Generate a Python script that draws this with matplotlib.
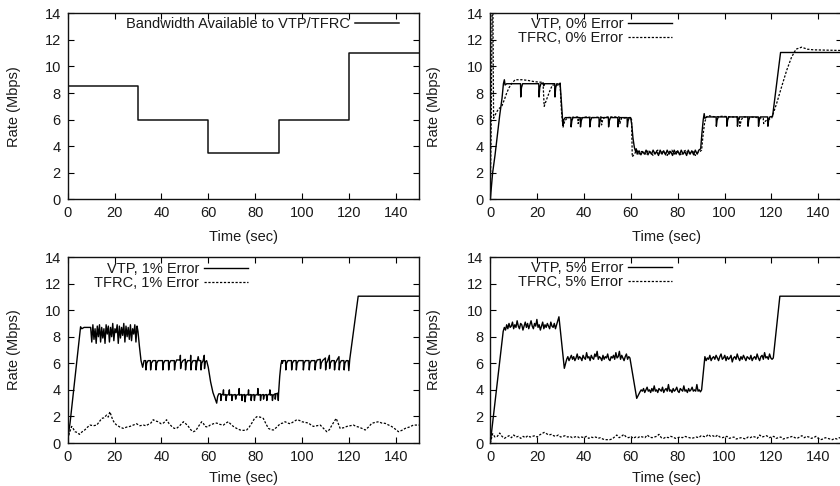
import numpy as np
import matplotlib
matplotlib.use("Agg")
import matplotlib.pyplot as plt

plt.rcParams['font.family'] = ['Liberation Sans', 'DejaVu Sans']
plt.rcParams['font.size'] = 10.5

# ---------------- data ----------------
bw_t = [0, 30, 60, 90, 120, 150]
bw_v = [8.5, 6.0, 3.5, 6.0, 11.0, 11.0]

vtp0 = [(0, 0), (1, 2.0), (2, 3.3), (3, 4.8), (4, 6.3), (5, 7.6), (5.6, 8.7), (6.0, 9.0), (6.3, 8.6), (7, 8.7),
        (12.9, 8.7), (13.0, 7.7), (13.3, 8.4), (13.8, 8.7), (20.7, 8.7), (20.8, 7.7), (21.1, 8.4), (21.6, 8.7),
        (22.6, 8.75), (22.8, 8.55), (23.2, 8.7), (27.5, 8.7), (27.6, 7.7), (27.9, 8.4), (28.4, 8.7), (29.6, 8.65),
        (29.8, 8.75), (30.3, 7.4), (30.7, 6.2), (31.0, 5.6), (31.4, 6.0), (32.0, 6.15),
        (34.4, 6.15), (34.5, 5.45), (34.8, 5.9), (35.3, 6.15),
        (38.4, 6.15), (38.5, 5.45), (38.8, 5.9), (39.3, 6.15),
        (42.4, 6.15), (42.5, 5.45), (42.8, 5.9), (43.3, 6.15),
        (46.4, 6.15), (46.5, 5.45), (46.8, 5.9), (47.3, 6.15),
        (50.4, 6.15), (50.5, 5.45), (50.8, 5.9), (51.3, 6.15),
        (54.4, 6.15), (54.5, 5.45), (54.8, 5.9), (55.3, 6.15),
        (58.4, 6.15), (58.5, 5.45), (58.8, 5.9), (59.3, 6.15),
        (59.9, 6.15), (60.4, 5.6), (60.9, 4.6), (61.5, 3.9), (62.0, 3.6), (62.3, 3.8), (62.7, 3.4), (63.5, 3.65),
        (64.3, 3.35), (65.0, 3.6), (65.8, 3.4), (66.5, 3.7), (67.3, 3.35), (68.0, 3.6), (68.8, 3.4), (69.5, 3.7),
        (70.3, 3.4), (71.0, 3.6), (71.8, 3.3), (72.5, 3.7), (73.3, 3.4), (74.0, 3.65), (74.8, 3.35), (75.5, 3.7),
        (76.3, 3.4), (77.0, 3.6), (77.8, 3.3), (78.5, 3.7), (79.3, 3.4), (80.0, 3.65), (80.8, 3.35), (81.5, 3.7),
        (82.3, 3.4), (83.0, 3.6), (83.8, 3.3), (84.5, 3.7), (85.3, 3.4), (86.0, 3.65), (86.8, 3.35), (87.5, 3.7),
        (88.3, 3.4), (89.0, 3.7), (89.8, 3.8), (90.3, 4.9), (90.9, 6.0), (91.3, 6.45), (91.6, 6.1), (92.5, 6.2),
        (96.4, 6.2), (96.5, 5.5), (96.8, 5.95), (97.3, 6.2),
        (100.9, 6.2), (101.0, 5.5), (101.3, 5.95), (101.8, 6.2),
        (105.4, 6.2), (105.5, 5.5), (105.8, 5.95), (106.3, 6.2),
        (109.9, 6.2), (110.0, 5.5), (110.3, 5.95), (110.8, 6.2),
        (114.4, 6.2), (114.5, 5.5), (114.8, 5.95), (115.3, 6.2),
        (118.4, 6.2), (118.5, 5.5), (118.8, 5.95), (119.3, 6.2),
        (120.5, 6.25), (123.9, 11.05), (150, 11.05)]

tfrc0 = [(0, 0), (0.4, 6.0), (0.8, 15.0), (1.1, 15.0), (1.4, 6.1), (2.5, 6.5), (3.5, 6.8), (4.9, 7.0), (6, 7.5),
         (7, 8.0), (8, 8.4), (9.1, 8.7), (10.6, 9.0), (13.6, 9.0), (16, 8.95), (19, 8.85), (22.5, 8.8),
         (23.0, 7.0), (24.2, 7.6), (25.5, 8.2), (26.5, 8.6), (29.8, 8.6), (30.4, 6.6), (31.0, 5.4), (31.8, 5.9),
         (33, 6.15), (37.3, 6.2), (37.5, 5.7), (38, 6.1), (41, 6.2), (44, 6.15), (47.3, 6.2), (47.5, 5.6),
         (48, 6.0), (49, 6.2), (55, 6.2), (55.3, 5.7), (56, 6.1), (59.8, 6.15), (60.3, 6.0), (60.6, 3.2),
         (61.5, 3.4), (62.5, 3.7), (63.5, 3.4), (64.5, 3.6), (65.5, 3.5), (66.5, 3.4), (67.5, 3.7), (68.5, 3.5),
         (69.5, 3.3), (70.5, 3.6), (71.5, 3.7), (72.5, 3.4), (73.5, 3.6), (74.5, 3.5), (75.5, 3.3), (76.5, 3.6),
         (77.5, 3.7), (78.5, 3.4), (79.5, 3.6), (80.5, 3.5), (81.5, 3.3), (82.5, 3.6), (83.5, 3.7), (84.5, 3.4),
         (85.5, 3.5), (86.5, 3.6), (87.5, 3.3), (88.5, 3.5), (89.5, 3.6), (90.2, 3.7), (90.8, 4.8), (91.5, 5.8),
         (92.3, 6.2), (93, 6.3), (96, 6.2), (99, 6.25), (103, 6.2), (106.3, 6.2), (106.5, 5.5), (107.2, 6.0),
         (108, 6.2), (111, 6.2), (114, 6.15), (116.5, 6.1), (116.7, 5.7), (117.5, 5.9), (118.5, 6.0),
         (120.1, 6.1), (122.2, 7.2), (124.4, 8.5), (126.5, 9.7), (128.6, 10.7), (130.5, 11.3), (132.9, 11.45),
         (135.3, 11.3), (138, 11.25), (150, 11.2)]

vtp1_head = [(0, 0), (0.5, 0.9), (1.0, 1.5), (5.5, 8.75), (6.0, 8.6), (7.0, 8.7), (9.5, 8.7)]
vtp1_osc = [8.7, 7.6, 8.9, 7.8, 8.6, 7.5, 8.8, 8.0, 8.9, 7.6, 8.7, 7.9, 8.6, 7.5, 8.9, 8.2, 8.8, 7.6, 8.7, 8.0,
            9.0, 7.7, 8.6, 8.3, 8.9, 7.5, 8.8, 7.9, 8.7, 8.1, 9.0, 7.6, 8.8, 8.0, 8.7, 7.8, 8.9, 7.7, 8.6, 8.2,
            8.9, 7.6, 8.8]
vtp1_osc_span = (9.8, 29.6)
vtp1_tail = [(30.0, 8.4), (30.6, 7.3), (31.3, 6.2), (32.0, 5.7),
             (32.6, 6.2), (33.3, 6.2), (33.4, 5.5), (33.7, 6.0), (34.3, 6.2), (35.3, 6.2), (35.4, 5.5), (35.7, 6.0),
             (36.4, 6.2), (37.6, 6.2), (37.7, 5.5), (38.0, 6.0), (38.6, 6.2), (40.5, 6.2), (40.6, 5.5), (40.9, 6.0),
             (41.5, 6.2), (43.0, 6.2), (43.1, 5.5), (43.4, 6.0), (44.0, 6.2), (45.5, 6.2), (45.6, 5.5), (45.9, 6.0),
             (46.5, 6.25), (48.0, 6.25), (48.1, 6.6), (48.2, 5.6), (48.5, 6.0), (49.2, 6.2), (50.2, 6.3), (50.3, 5.5),
             (50.6, 6.0), (51.2, 6.2), (52.4, 6.2), (52.5, 6.6), (52.6, 5.5), (52.9, 6.0), (53.5, 6.2), (54.7, 6.2),
             (54.8, 5.5), (55.1, 6.0), (55.7, 6.5), (56.0, 6.2), (56.8, 6.2), (56.9, 5.5), (57.2, 6.0), (57.8, 6.2),
             (58.3, 6.6), (58.4, 5.6), (58.7, 6.1), (59.3, 6.2),
             (60.0, 5.7), (61.0, 4.6), (62.0, 3.8), (62.8, 3.4), (63.6, 3.0), (64.0, 3.5), (64.5, 3.7),
             (65.3, 3.7), (65.4, 3.2), (65.7, 3.6), (66.3, 3.7), (66.5, 4.0), (66.6, 3.6), (67.5, 3.65), (67.6, 3.2),
             (67.9, 3.6), (68.8, 3.65), (69.0, 4.0), (69.1, 3.6), (70.0, 3.65), (70.1, 3.2), (70.4, 3.6), (71.5, 3.65),
             (71.7, 3.3), (72.0, 3.6), (73.0, 3.65), (73.2, 4.1), (73.3, 3.6), (74.3, 3.65), (74.4, 3.2), (74.7, 3.6),
             (75.5, 3.65), (75.7, 3.1), (76.0, 3.6), (77.0, 3.65), (77.2, 4.0), (77.3, 3.6), (78.2, 3.65), (78.3, 3.2),
             (78.6, 3.6), (79.5, 3.65), (79.7, 3.2), (80.0, 3.6), (81.0, 3.65), (81.2, 4.1), (81.3, 3.6), (82.2, 3.65),
             (82.3, 3.2), (82.6, 3.6), (83.5, 3.65), (83.6, 3.3), (83.9, 3.6), (84.8, 3.65), (85.0, 3.2), (85.3, 3.6),
             (86.2, 3.7), (86.3, 4.0), (86.4, 3.6), (87.2, 3.65), (87.4, 3.2), (87.7, 3.6), (88.5, 3.7), (88.6, 3.3),
             (88.9, 3.7), (89.7, 3.75), (89.9, 3.2), (90.0, 3.7), (90.5, 5.0), (91.0, 5.9), (91.4, 6.2), (91.6, 6.0),
             (92.0, 6.2), (93.0, 6.2), (93.1, 5.5), (93.4, 6.0), (94.0, 6.2), (95.5, 6.2), (95.6, 5.5), (95.9, 6.0),
             (96.5, 6.2), (97.5, 6.2), (97.6, 5.5), (97.9, 6.0), (98.5, 6.2), (100.5, 6.2), (100.6, 5.5), (100.9, 6.0),
             (101.5, 6.2), (103.0, 6.2), (103.1, 5.5), (103.4, 6.0), (104.0, 6.2), (105.5, 6.2), (105.6, 5.5),
             (105.9, 6.0), (106.5, 6.25), (107.8, 6.3), (107.9, 5.6), (108.2, 6.0), (108.8, 6.2), (110.0, 6.4),
             (110.1, 5.5), (110.4, 6.0), (111.0, 6.2), (111.7, 6.6), (111.8, 5.6), (112.1, 6.0), (112.7, 6.2),
             (113.8, 6.2), (113.9, 5.5), (114.2, 6.0), (114.8, 6.2), (115.8, 6.5), (115.9, 5.5), (116.2, 6.0),
             (116.8, 6.2), (117.9, 6.2), (118.0, 5.5), (118.3, 6.0), (118.9, 6.2), (119.7, 6.2), (120.0, 5.45),
             (120.4, 6.3), (124.0, 11.05), (150, 11.05)]

tfrc1 = [(0, 0.3), (0.8, 0.8), (1.7, 1.25), (2.3, 1.1), (3.1, 0.85), (4.0, 0.8), (5.0, 0.65), (6.2, 0.85),
         (7.4, 1.0), (8.5, 1.2), (9.5, 1.35), (11.0, 1.3), (12.4, 1.35), (13.5, 1.6), (14.5, 1.85), (15.5, 1.9),
         (16.6, 2.1), (17.3, 1.95), (18.0, 2.35), (19.2, 1.75), (20.0, 1.5), (20.9, 1.35), (22.3, 1.2), (23.7, 1.1),
         (25.2, 1.2), (26.6, 1.25), (28, 1.35), (29.4, 1.45), (30.8, 1.3), (32.3, 1.35), (33.4, 1.3), (34.4, 1.4),
         (35.5, 1.5), (36.5, 1.75), (37.6, 1.65), (38.7, 1.6), (39.8, 1.45), (40.8, 1.5), (41.5, 1.6), (42.2, 1.75),
         (43.3, 1.45), (44.4, 1.25), (45.5, 1.1), (46.5, 1.1), (47.8, 1.3), (49.4, 1.6), (50.4, 1.45), (51.5, 1.25),
         (52.5, 1.0), (53.6, 0.85), (54.3, 0.9), (55.1, 1.05), (56.2, 1.35), (57.2, 1.6), (58.0, 1.45),
         (58.6, 1.25), (59.7, 1.2), (60.8, 1.35), (62.2, 1.45), (63.6, 1.5), (65.0, 1.4), (66.5, 1.35), (67.5, 1.5),
         (68.6, 1.6), (69.7, 1.4), (70.7, 1.25), (72.1, 1.1), (73.6, 0.98), (75.0, 0.95), (76.4, 0.98), (77.5, 1.2),
         (78.6, 1.5), (79.6, 1.8), (80.7, 1.98), (82.1, 1.95), (83.5, 1.85), (84.6, 1.45), (85.7, 1.1), (86.8, 1.0),
         (87.8, 0.98), (89.3, 1.2), (90.7, 1.45), (91.8, 1.5), (92.8, 1.6), (93.9, 1.5), (95.0, 1.45), (96.4, 1.6),
         (97.8, 1.75), (98.9, 1.7), (100.0, 1.6), (101.4, 1.55), (102.8, 1.5), (103.9, 1.35), (104.9, 1.25),
         (106.4, 1.3), (107.8, 1.35), (109.2, 1.1), (110.6, 0.85), (111.7, 1.0), (112.8, 1.35), (113.7, 1.6),
         (114.6, 1.85), (115.4, 1.5), (116.3, 1.1), (117.8, 1.15), (119.2, 1.25), (120.6, 1.3), (122.0, 1.35),
         (123.1, 1.25), (124.2, 1.2), (125.6, 1.1), (127.0, 0.98), (128.4, 1.2), (129.8, 1.48), (131.2, 1.55),
         (132.7, 1.6), (134.1, 1.5), (135.5, 1.48), (137.0, 1.35), (138.4, 1.23), (139.8, 1.05), (141.2, 0.85),
         (142.6, 0.95), (144.1, 1.1), (145.8, 1.2), (147.6, 1.35), (150, 1.35)]

# VTP 5%: ramps + noisy plateaus (plateau samples evenly spaced over their span)
vtp5_ramp_up = [(0, 0), (5.5, 8.4)]
vtp5_seg_a = [8.7, 8.5, 8.9, 8.6, 9.0, 8.7, 8.8, 9.1, 8.6, 8.9, 8.7, 9.2, 8.8, 8.6, 9.0, 8.9, 8.5, 8.8, 9.1, 8.7,
              9.0, 8.6, 8.9, 9.2, 8.8, 8.6, 9.0, 8.8, 9.3, 8.7, 8.9, 8.5, 8.8, 9.1, 8.6, 8.9, 8.7, 9.0, 8.8, 8.6,
              9.1, 8.8, 8.7, 9.0, 8.6, 8.9, 9.2, 9.5]
vtp5_span_a = (6.0, 29.3)
vtp5_drop_a = [(31.6, 5.62)]
vtp5_seg_b = [6.3, 6.5, 6.2, 6.4, 6.6, 6.3, 6.5, 6.2, 6.4, 6.7, 6.3, 6.5, 6.4, 6.2, 6.6, 6.4, 6.3, 6.8, 6.4, 6.5,
              6.2, 6.6, 6.4, 6.3, 6.7, 6.5, 6.9, 6.3, 6.5, 6.4, 6.2, 6.6, 6.3, 6.5, 6.4, 6.7, 6.3, 6.2, 6.5, 6.4,
              6.6, 6.3, 6.8, 6.4, 6.5, 6.9, 6.3, 6.6, 6.4, 6.2, 6.5, 6.7, 6.3, 6.5, 6.4]
vtp5_span_b = (32.6, 59.6)
vtp5_drop_b = [(62.5, 3.36)]
vtp5_seg_c = [3.85, 4.0, 3.9, 4.1, 3.8, 4.0, 4.2, 3.9, 4.0, 3.8, 4.1, 3.9, 4.3, 3.9, 4.0, 3.8, 4.1, 4.0, 3.9, 4.2,
              3.8, 4.0, 4.1, 3.9, 4.4, 3.9, 4.0, 3.8, 4.1, 3.9, 4.0, 4.2, 3.9, 3.8, 4.1, 4.0, 3.9, 4.3, 3.9, 4.0,
              3.8, 4.1, 3.9, 4.0, 4.2, 3.9, 4.0, 3.9, 4.4, 3.9, 4.0, 3.85, 4.0]
vtp5_span_c = (63.9, 90.2)
vtp5_seg_d = [6.5, 6.2, 6.4, 6.3, 6.6, 6.2, 6.4, 6.5, 6.3, 6.6, 6.4, 6.2, 6.5, 6.7, 6.3, 6.4, 6.6, 6.2, 6.5, 6.3,
              6.4, 6.6, 6.1, 6.4, 6.5, 6.3, 6.7, 6.4, 6.2, 6.5, 6.3, 6.6, 6.4, 6.2, 6.5, 6.4, 6.3, 6.6, 6.2, 6.4,
              6.5, 6.3, 6.7, 6.4, 6.2, 6.5, 6.6, 6.3, 6.8, 6.4, 6.5, 6.3, 6.7, 6.4, 6.3, 6.4]
vtp5_span_d = (91.6, 120.8)
vtp5_end = [(123.6, 11.05), (150, 11.05)]

tfrc5 = [0.0, 0.7, 0.45, 0.5, 0.75, 0.5, 0.35, 0.45, 0.55, 0.4, 0.6, 0.45, 0.5, 0.35, 0.5, 0.4, 0.55, 0.45, 0.5,
         0.55, 0.45, 0.6, 0.7, 0.8, 0.7, 0.6, 0.65, 0.55, 0.5, 0.6, 0.45, 0.5, 0.55, 0.45, 0.5, 0.4, 0.45, 0.5,
         0.4, 0.45, 0.4, 0.5, 0.35, 0.45, 0.4, 0.45, 0.35, 0.4, 0.3, 0.25, 0.25, 0.25, 0.3, 0.45, 0.6, 0.4, 0.5,
         0.65, 0.45, 0.4, 0.5, 0.35, 0.45, 0.4, 0.5, 0.45, 0.4, 0.6, 0.45, 0.4, 0.45, 0.5, 0.65, 0.4, 0.35, 0.45,
         0.4, 0.5, 0.45, 0.35, 0.4, 0.45, 0.4, 0.5, 0.45, 0.4, 0.35, 0.4, 0.45, 0.4, 0.55, 0.5, 0.45, 0.65, 0.5,
         0.55, 0.45, 0.6, 0.45, 0.4, 0.45, 0.5, 0.35, 0.4, 0.45, 0.3, 0.35, 0.4, 0.35, 0.3, 0.45, 0.4, 0.5, 0.45,
         0.35, 0.6, 0.45, 0.5, 0.55, 0.4, 0.45, 0.5, 0.35, 0.4, 0.45, 0.3, 0.35, 0.4, 0.45, 0.5, 0.4, 0.35, 0.45,
         0.55, 0.4, 0.5, 0.45, 0.35, 0.4, 0.5, 0.35, 0.25, 0.3, 0.4, 0.35, 0.3, 0.25, 0.35, 0.3, 0.4, 0.35]
tfrc5_span = (0, 150)

x_ticks = [0, 20, 40, 60, 80, 100, 120, 140]
y_ticks = [0, 2, 4, 6, 8, 10, 12, 14]
x_label = "Time (sec)"
y_label = "Rate (Mbps)"


def pairs(p):
    a = np.array(p, dtype=float)
    return a[:, 0], a[:, 1]


def seg(vals, span):
    return np.linspace(span[0], span[1], len(vals)), np.array(vals, dtype=float)


def join(*parts):
    ts, vs = zip(*parts)
    return np.concatenate(ts), np.concatenate(vs)


# ---------------- figure ----------------
fig = plt.figure(figsize=(8.4, 4.86), dpi=100)
W, H = 840.0, 486.0
axw = 351.4 / W
axh = 186.0 / H
lefts = [67.7 / W, 490.3 / W]
bottoms = [1 - 199.3 / H, 1 - 443.0 / H]

TXT = '#1a1a1a'
FS = 10.5
solid_kw = dict(color='black', lw=1.0)
dash_kw = dict(color='black', lw=0.9, dashes=(1.8, 1.3))


def style(ax):
    ax.set_xlim(0, 150)
    ax.set_ylim(0, 14)
    ax.set_xticks(x_ticks)
    ax.set_yticks(y_ticks)
    ax.tick_params(direction='in', top=True, right=True, length=4, width=0.8,
                   labelsize=FS, colors='black', labelcolor=TXT, pad=5)
    for s in ax.spines.values():
        s.set_linewidth(1.0)
        s.set_color('#111111')
    ax.set_xlabel(x_label, fontsize=FS, color=TXT, va='center')
    ax.set_ylabel(y_label, fontsize=FS, color=TXT, va='center')


axes = []
for r in range(2):
    for c in range(2):
        ax = fig.add_axes([lefts[c], bottoms[r], axw, axh])
        style(ax)
        axes.append(ax)

ax1, ax2, ax3, ax4 = axes

# panel 1
ax1.plot(bw_t, bw_v, drawstyle='steps-post', color='#111111', lw=1.1,
         label='Bandwidth Available to VTP/TFRC')

# panel 2
t, v = pairs(vtp0)
ax2.plot(t, v, label='VTP, 0% Error', **solid_kw)
t, v = pairs(tfrc0)
ax2.plot(t, v, label='TFRC, 0% Error', **dash_kw)

# panel 3
t, v = join(pairs(vtp1_head), seg(vtp1_osc, vtp1_osc_span), pairs(vtp1_tail))
ax3.plot(t, v, label='VTP, 1% Error', **solid_kw)
t, v = pairs(tfrc1)
ax3.plot(t, v, label='TFRC, 1% Error', **dash_kw)

# panel 4
t, v = join(pairs(vtp5_ramp_up), seg(vtp5_seg_a, vtp5_span_a), pairs(vtp5_drop_a),
            seg(vtp5_seg_b, vtp5_span_b), pairs(vtp5_drop_b), seg(vtp5_seg_c, vtp5_span_c),
            seg(vtp5_seg_d, vtp5_span_d), pairs(vtp5_end))
ax4.plot(t, v, label='VTP, 5% Error', **solid_kw)
t, v = seg(tfrc5, tfrc5_span)
ax4.plot(t, v, label='TFRC, 5% Error', **dash_kw)

# label placement
ylab_x = [(14 - 67.7) / 351.4, (434 - 490.3) / 351.4]
xlab_y = [(199.3 - 236.7) / 186.0, (443 - 478) / 186.0]
for i, ax in enumerate(axes):
    r, c = divmod(i, 2)
    ax.yaxis.set_label_coords(ylab_x[c], 0.5)
    ax.xaxis.set_label_coords(0.5, xlab_y[r])

leg_pos = [(0.943, 0.978), (0.517, 0.978), (0.513, 0.975), (0.517, 0.978)]
for ax, pos in zip(axes, leg_pos):
    ax.legend(loc='upper right', bbox_to_anchor=pos, frameon=False, markerfirst=False,
              borderpad=0, borderaxespad=0, handlelength=3.0, handletextpad=0.35,
              labelspacing=0.0, fontsize=FS, labelcolor=TXT)

fig.savefig('out.png', dpi=100)
